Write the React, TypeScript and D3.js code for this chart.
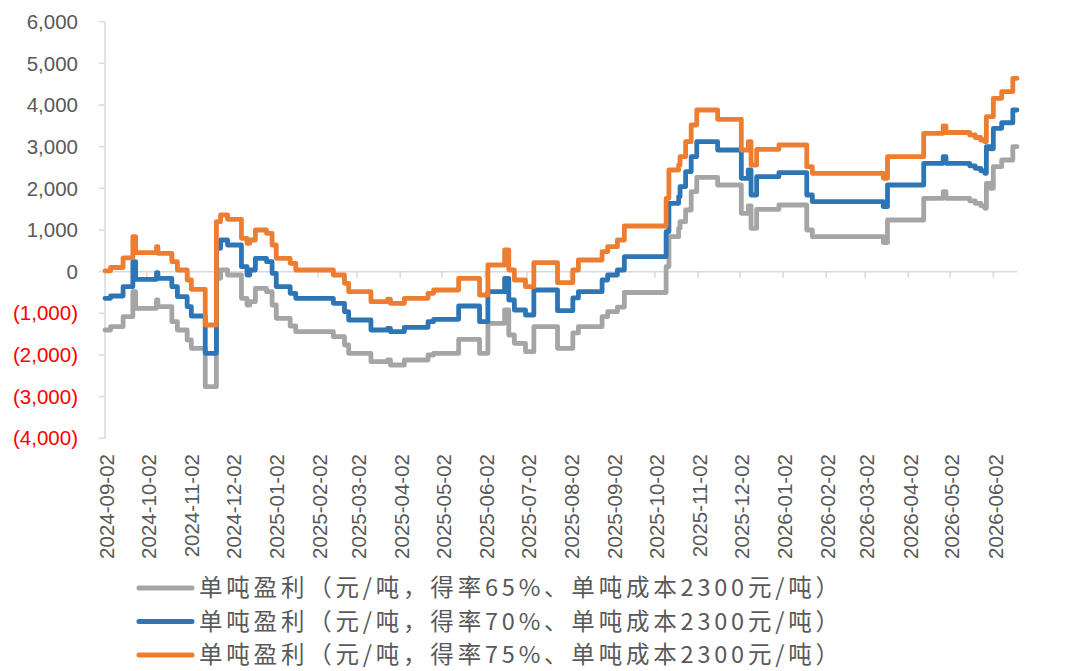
import React from "react";
import * as d3 from "d3";

const dates = [
  "2024-09-02","2024-09-06","2024-09-15","2024-09-22","2024-09-24","2024-10-09","2024-10-10","2024-10-20","2024-10-24","2024-10-31",
  "2024-11-03","2024-11-13","2024-11-21","2024-11-24","2024-11-29","2024-12-09","2024-12-13","2024-12-15","2024-12-19","2024-12-27",
  "2024-12-31","2025-01-03","2025-01-13","2025-01-17","2025-02-13","2025-02-21","2025-02-24","2025-03-12","2025-03-24","2025-03-26",
  "2025-04-05","2025-04-22","2025-04-26","2025-05-14","2025-05-29","2025-06-04","2025-06-16","2025-06-19","2025-06-23","2025-07-01",
  "2025-07-07","2025-07-24","2025-08-04","2025-08-08","2025-08-25","2025-08-29","2025-09-05","2025-09-10","2025-10-10","2025-10-12",
  "2025-10-19","2025-10-20","2025-10-24","2025-10-28","2025-11-01","2025-11-16","2025-12-03","2025-12-08","2025-12-10","2025-12-14",
  "2025-12-30","2026-01-19","2026-01-23","2026-03-15","2026-03-18","2026-04-13","2026-04-27","2026-04-29","2026-05-16","2026-05-20",
  "2026-05-24","2026-05-27","2026-05-28","2026-05-31","2026-06-02","2026-06-08","2026-06-16","2026-06-19",
];

const gray65 = [
  -1400,-1320,-1080,-480,-880,-680,-840,-1200,-1400,-1640,
  -1840,-2760,-160,40,-80,-640,-800,-720,-400,-480,
  -800,-1120,-1304,-1440,-1560,-1760,-1960,-2160,-2120,-2240,
  -2120,-2000,-1960,-1624,-1960,-1240,-920,-1520,-1720,-1920,
  -1320,-1840,-1470,-1320,-1080,-960,-850,-500,120,840,
  1040,1200,1480,1920,2264,2080,1400,1576,1040,1496,
  1600,1000,840,700,1240,1760,1920,1760,1700,1640,
  1580,1520,2120,2000,2520,2680,3000,3000,
];

const blue70 = [
  -640,-584,-360,240,-184,-24,-160,-360,-600,-840,
  -1064,-1960,560,760,640,120,-80,40,320,240,
  -40,-360,-520,-640,-760,-960,-1160,-1400,-1360,-1440,
  -1336,-1200,-1144,-824,-1200,-480,-160,-680,-920,-1040,
  -440,-936,-630,-480,-200,-80,40,360,960,1640,
  1800,2040,2400,2760,3120,2920,2240,2440,1840,2280,
  2376,1840,1680,1560,2080,2600,2760,2600,2540,2480,
  2420,2360,3000,2950,3440,3575,3880,3880,
];

const orange75 = [
  20,100,330,840,456,600,440,240,40,-200,
  -424,-1280,1200,1360,1256,800,680,760,1000,920,
  640,320,200,40,-80,-280,-480,-720,-660,-760,
  -640,-520,-440,-160,-560,160,520,40,-200,-360,
  216,-264,40,280,480,600,760,1096,1760,2440,
  2560,2760,3120,3520,3880,3656,2920,3120,2560,2936,
  3040,2520,2360,2240,2760,3320,3500,3340,3280,3220,
  3160,3120,3720,3720,4160,4320,4640,4640,
];

const xTickLabels = [
  "2024-09-02","2024-10-02","2024-11-02","2024-12-02","2025-01-02","2025-02-02","2025-03-02","2025-04-02",
  "2025-05-02","2025-06-02","2025-07-02","2025-08-02","2025-09-02","2025-10-02","2025-11-02","2025-12-02",
  "2026-01-02","2026-02-02","2026-03-02","2026-04-02","2026-05-02","2026-06-02",
];

const yTicks = [-4000, -3000, -2000, -1000, 0, 1000, 2000, 3000, 4000, 5000, 6000];

const seriesNames = [
  "单吨盈利（元/吨，得率65%、单吨成本2300元/吨）",
  "单吨盈利（元/吨，得率70%、单吨成本2300元/吨）",
  "单吨盈利（元/吨，得率75%、单吨成本2300元/吨）",
];
const seriesColors = ["#A5A5A5", "#2E75B6", "#ED7D31"];
const seriesValues = [gray65, blue70, orange75];

const parse = d3.timeParse("%Y-%m-%d");

export default function App() {
  const W = 1067, H = 671;
  const left = 105, right = 1017, top = 21.7, bottom = 438.3;
  const x = d3.scaleTime()
    .domain([parse("2024-09-02")!, parse("2026-06-19")!])
    .range([left, right]);
  const y = d3.scaleLinear().domain([-4000, 6000]).range([bottom, top]);
  const fmt = d3.format(",");
  const parsedDates = dates.map((d) => parse(d)!);

  const line = d3.line<[Date, number]>()
    .x((d) => x(d[0]))
    .y((d) => y(d[1]))
    .curve(d3.curveStepAfter);

  const axisColor = "#D9D9D9";
  const textColor = "#595959";
  const numFont = "'Liberation Sans', Arial, sans-serif";

  return (
    <svg width={W} height={H} style={{ position: "absolute", left: 0, top: 0, background: "#fff" }}>
      {/* y axis */}
      <line x1={left} x2={left} y1={y(6000)} y2={y(-4000)} stroke={axisColor} strokeWidth={1.5} />
      {yTicks.map((t) => (
        <g key={t}>
          <line x1={left - 6} x2={left} y1={y(t)} y2={y(t)} stroke={axisColor} strokeWidth={1.5} />
          <text
            x={78}
            y={y(t)}
            dy="0.35em"
            textAnchor="end"
            fontFamily={numFont}
            fontSize={20.5}
            fill={t < 0 ? "#FF0000" : textColor}
          >
            {t < 0 ? `(${fmt(-t)})` : fmt(t)}
          </text>
        </g>
      ))}
      {/* x axis at zero */}
      <line x1={left} x2={right} y1={y(0)} y2={y(0)} stroke={axisColor} strokeWidth={1.5} />
      {xTickLabels.map((s) => {
        const xv = x(parse(s)!);
        return (
          <g key={s}>
            <line x1={xv} x2={xv} y1={y(0)} y2={y(0) + 6} stroke={axisColor} strokeWidth={1.5} />
            <text
              transform={`translate(${xv + 2},454) rotate(-90)`}
              textAnchor="end"
              dy="0.35em"
              fontFamily={numFont}
              fontSize={20.5}
              fill={textColor}
            >
              {s}
            </text>
          </g>
        );
      })}
      {/* series */}
      {seriesValues.map((vals, i) => (
        <path
          key={i}
          d={line(parsedDates.map((d, j) => [d, vals[j]] as [Date, number])) || ""}
          fill="none"
          stroke={seriesColors[i]}
          strokeWidth={4.8}
          strokeLinejoin="round"
          strokeLinecap="round"
        />
      ))}
      {/* legend */}
      {seriesNames.map((name, i) => {
        const cy = 588 + i * 33.5;
        return (
          <g key={name}>
            <line x1={139} x2={192} y1={cy} y2={cy} stroke={seriesColors[i]} strokeWidth={5} strokeLinecap="round" />
            <text
              x={199}
              y={cy}
              dy="0.36em"
              fontFamily="'Noto Sans CJK SC', sans-serif"
              fontSize={23.5}
              fill={textColor}
              textLength={640}
              lengthAdjust="spacing"
            >
              {name}
            </text>
          </g>
        );
      })}
    </svg>
  );
}
